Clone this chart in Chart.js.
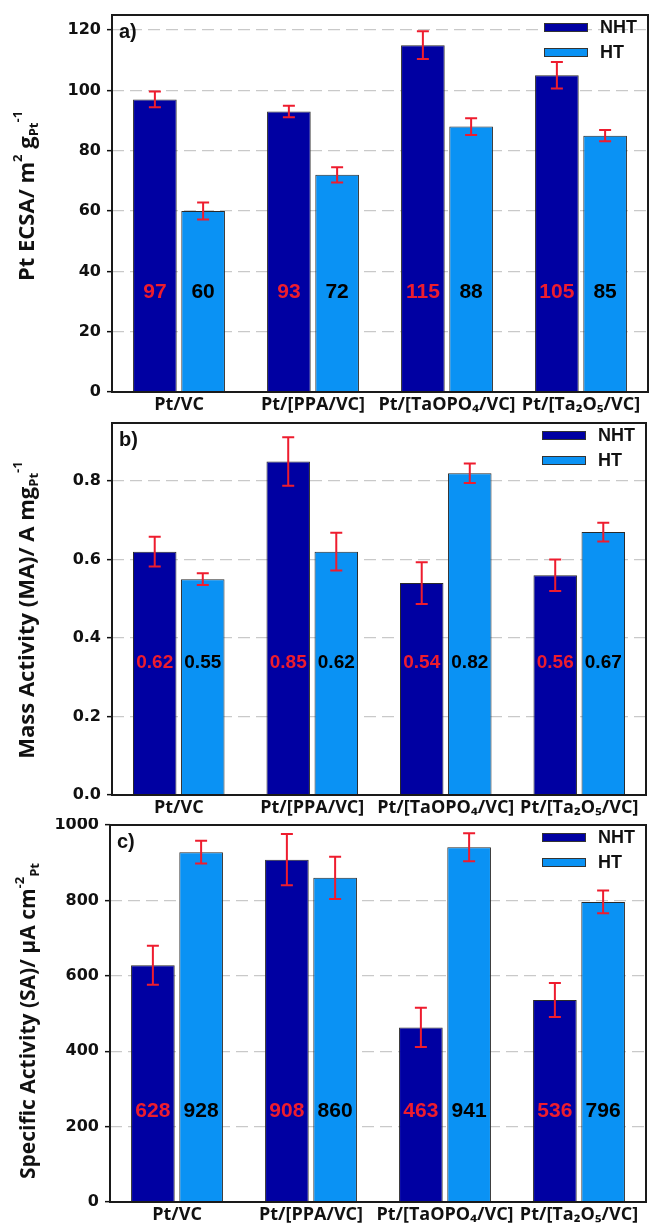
<!DOCTYPE html>
<html><head><meta charset="utf-8">
<script src="https://cdn.jsdelivr.net/npm/chart.js@4/dist/chart.umd.min.js"></script>
<style>
html,body{margin:0;padding:0;background:#fff;}
#wrap{position:relative;width:651px;height:1229px;background:#fff;overflow:hidden;}
canvas{position:absolute;left:0;}
</style></head><body>
<div id="wrap">
<canvas id="ca" width="651" height="418" style="top:0px"></canvas>
<canvas id="cb" width="651" height="400" style="top:418px"></canvas>
<canvas id="cc" width="651" height="411" style="top:818px"></canvas>
</div>
<script>
// ---------- data ----------
const categories = ['Pt/VC', 'Pt/[PPA/VC]', 'Pt/[TaOPO\u2084/VC]', 'Pt/[Ta\u2082O\u2085/VC]'];
const seriesNames = ['NHT', 'HT'];

const ecsaNHT = [97, 93, 115, 105];
const ecsaHT = [60, 72, 88, 85];
const ecsaNHTErr = [2.6, 1.9, 4.6, 4.4];
const ecsaHTErr = [2.8, 2.5, 2.8, 1.9];
const ecsaTicks = [0, 20, 40, 60, 80, 100, 120];

const maNHT = [0.62, 0.85, 0.54, 0.56];
const maHT = [0.55, 0.62, 0.82, 0.67];
const maNHTErr = [0.038, 0.062, 0.053, 0.040];
const maHTErr = [0.015, 0.048, 0.025, 0.024];
const maTicks = [0.0, 0.2, 0.4, 0.6, 0.8];

const saNHT = [628, 908, 463, 536];
const saHT = [928, 860, 941, 796];
const saNHTErr = [52, 68, 52, 45];
const saHTErr = [30, 56, 37, 30];
const saTicks = [0, 200, 400, 600, 800, 1000];

// ---------- styles ----------
const NHT_COLOR = '#0000a2';
const HT_COLOR = '#0a92f4';
const ERR_COLOR = '#ee1c2e';
const TITLE_FAMILY = '"Open Sans", "DejaVu Sans", sans-serif';
const LABEL_FAMILY = '"Liberation Sans", Arial, sans-serif';

function drawRich(ctx, segs, cx, cy, size) {
  ctx.save();
  ctx.translate(cx, cy);
  ctx.rotate(-Math.PI / 2);
  ctx.fillStyle = '#111';
  ctx.textBaseline = 'middle';
  ctx.textAlign = 'left';
  const small = Math.round(size * 0.6);
  const fontFor = k => 'bold ' + (k === 'n' ? size : small) + 'px ' + TITLE_FAMILY;
  let total = 0;
  const ws = segs.map(s => { ctx.font = fontFor(s.k); const w = ctx.measureText(s.t).width; total += w; return w; });
  let x = -total / 2;
  segs.forEach((s, i) => {
    ctx.font = fontFor(s.k);
    const dy = s.k === 'sup' ? -size * 0.42 : s.k === 'sub' ? size * 0.3 : 0;
    ctx.fillText(s.t, x, dy);
    x += ws[i];
  });
  ctx.restore();
}

const decor = {
  id: 'decor',
  afterDatasetsDraw(chart, args, o) {
    const ctx = chart.ctx, ys = chart.scales.y;
    chart.data.datasets.forEach((ds, di) => {
      const meta = chart.getDatasetMeta(di);
      meta.data.forEach((bar, i) => {
        const v = ds.data[i], e = ds.errors[i];
        const yt = ys.getPixelForValue(v + e), yb = ys.getPixelForValue(v - e);
        ctx.save();
        ctx.strokeStyle = ERR_COLOR;
        ctx.lineWidth = 2;
        ctx.beginPath();
        ctx.moveTo(bar.x, yt); ctx.lineTo(bar.x, yb);
        ctx.moveTo(bar.x - 6, yt); ctx.lineTo(bar.x + 6, yt);
        ctx.moveTo(bar.x - 6, yb); ctx.lineTo(bar.x + 6, yb);
        ctx.stroke();
        ctx.fillStyle = ds.valueColor;
        ctx.font = o.valueFont;
        ctx.textAlign = 'center';
        ctx.textBaseline = 'middle';
        ctx.fillText(o.fmt(v), bar.x, ys.getPixelForValue(o.labelAt));
        ctx.restore();
      });
    });
  },
  afterDraw(chart, args, o) {
    const ctx = chart.ctx, ca = chart.chartArea;
    ctx.save();
    ctx.strokeStyle = '#1a1a1a';
    ctx.lineWidth = 2;
    ctx.strokeRect(ca.left, ca.top, ca.right - ca.left, ca.bottom - ca.top);
    chart.data.datasets.forEach((ds, di) => {
      const by = ca.top + 8 + di * 25;
      const bx = ca.right - 104;
      ctx.fillStyle = ds.backgroundColor;
      ctx.fillRect(bx, by, 44, 9);
      ctx.strokeStyle = '#333';
      ctx.lineWidth = 1;
      ctx.strokeRect(bx + 0.5, by + 0.5, 43, 8);
      ctx.fillStyle = '#111';
      ctx.font = 'bold 18px ' + LABEL_FAMILY;
      ctx.textAlign = 'left';
      ctx.textBaseline = 'middle';
      ctx.fillText(ds.label, ca.right - 48, by + 5);
    });
    ctx.fillStyle = '#111';
    ctx.font = 'bold 20px ' + LABEL_FAMILY;
    ctx.textAlign = 'left';
    ctx.textBaseline = 'alphabetic';
    ctx.fillText(o.letter, ca.left + 7, ca.top + 23);
    ctx.restore();
    drawRich(ctx, o.title, o.titleX, o.titleY, o.titleSize);
  }
};

function makeChart(id, nht, ht, nhtErr, htErr, ticks, cfg) {
  return new Chart(document.getElementById(id), {
    type: 'bar',
    data: {
      labels: categories,
      datasets: [
        { label: seriesNames[0], data: nht, errors: nhtErr, valueColor: ERR_COLOR,
          backgroundColor: NHT_COLOR, borderColor: '#2a2a2a', borderWidth: 1 },
        { label: seriesNames[1], data: ht, errors: htErr, valueColor: '#000',
          backgroundColor: HT_COLOR, borderColor: '#2a2a2a', borderWidth: 1 }
      ]
    },
    options: {
      responsive: false,
      animation: false,
      devicePixelRatio: 1,
      layout: { padding: cfg.padding },
      categoryPercentage: 0.72,
      barPercentage: 0.905,
      plugins: {
        legend: { display: false },
        tooltip: { enabled: false },
        decor: cfg.decor
      },
      scales: {
        x: {
          grid: { display: false, drawTicks: false },
          border: { display: false },
          ticks: { color: '#111', padding: 2, maxRotation: 0, autoSkip: false,
                   font: { family: TITLE_FAMILY, weight: 'bold', size: 18 } },
          afterFit: s => { s.height = cfg.xHeight; s.paddingLeft = 0; s.paddingRight = 0; }
        },
        y: {
          min: cfg.min, max: cfg.max,
          afterBuildTicks: s => { s.ticks = ticks.map(v => ({ value: v })); },
          grid: { color: '#c9c9c9', lineWidth: 1.3, drawTicks: true, tickLength: 5,
                  tickColor: '#111', tickWidth: 1.5 },
          border: { display: false, dash: [12, 6] },
          ticks: { color: '#111', padding: 6, callback: cfg.tickFmt,
                   font: { family: '"DejaVu Sans", sans-serif', weight: 'bold', size: 16 } },
          afterFit: s => { s.width = cfg.yWidth; s.paddingTop = 0; s.paddingBottom = 0; }
        }
      }
    },
    plugins: [decor]
  });
}

makeChart('ca', ecsaNHT, ecsaHT, ecsaNHTErr, ecsaHTErr, ecsaTicks, {
  min: 0, max: 125, yWidth: 112, xHeight: 26,
  padding: { top: 15, right: 3, left: 0, bottom: 0 },
  tickFmt: v => String(v),
  decor: {
    letter: 'a)', labelAt: 33, valueFont: 'bold 21px ' + LABEL_FAMILY, fmt: v => String(Math.round(v)),
    titleX: 28, titleY: 196, titleSize: 22,
    title: [{t: 'Pt ECSA/ m', k: 'n'}, {t: '2', k: 'sup'}, {t: ' g', k: 'n'}, {t: 'Pt', k: 'sub'}, {t: '-1', k: 'sup'}]
  }
});

makeChart('cb', maNHT, maHT, maNHTErr, maHTErr, maTicks, {
  min: 0, max: 0.948, yWidth: 112, xHeight: 23,
  padding: { top: 5, right: 5, left: 0, bottom: 0 },
  tickFmt: v => Number(v).toFixed(1),
  decor: {
    letter: 'b)', labelAt: 0.336, valueFont: 'bold 19px ' + LABEL_FAMILY, fmt: v => v.toFixed(2),
    titleX: 28, titleY: 192, titleSize: 22,
    title: [{t: 'Mass Activity (MA)/ A mg', k: 'n'}, {t: 'Pt', k: 'sub'}, {t: '-1', k: 'sup'}]
  }
});

makeChart('cc', saNHT, saHT, saNHTErr, saHTErr, saTicks, {
  min: 0, max: 1000, yWidth: 110, xHeight: 27,
  padding: { top: 7, right: 5, left: 0, bottom: 0 },
  tickFmt: v => String(v),
  decor: {
    letter: 'c)', labelAt: 240, valueFont: 'bold 21px ' + LABEL_FAMILY, fmt: v => String(Math.round(v)),
    titleX: 29, titleY: 203, titleSize: 21,
    title: [{t: 'Specific Activity (SA)/ \u00b5A cm', k: 'n'}, {t: '-2', k: 'sup'}, {t: 'Pt', k: 'sub'}]
  }
});
</script>
</body></html>
